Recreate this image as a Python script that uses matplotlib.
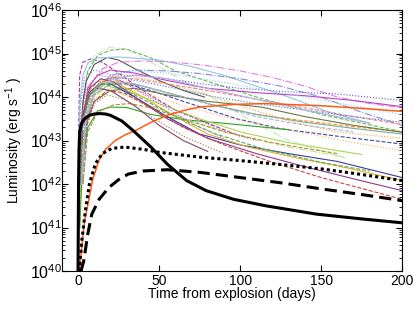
import numpy as np
import matplotlib
matplotlib.use('Agg')
import matplotlib.pyplot as plt

plt.rcParams['font.family'] = ['Liberation Sans', 'DejaVu Sans']
plt.rcParams['mathtext.fontset'] = 'custom'
plt.rcParams['mathtext.rm'] = 'Liberation Sans'
plt.rcParams['mathtext.it'] = 'Liberation Sans:italic'

# model curves (days, log10 L)
solid_days = [0, 0.3, 0.6, 1, 2, 3, 5, 7, 10, 13, 17, 20, 27, 34, 45, 55, 67, 79, 96, 116, 147, 175, 200]
solid_logl = [40, 42.0, 42.8, 43.2, 43.38, 43.45, 43.53, 43.58, 43.61, 43.62, 43.61, 43.58, 43.45, 43.23, 42.85, 42.46, 42.08, 41.85, 41.65, 41.5, 41.31, 41.2, 41.11]

dotted_days = [0.8, 2.3, 4.5, 7, 10.7, 15, 20.8, 28.8, 40, 50, 75, 100, 125, 150, 175, 200]
dotted_logl = [40, 40.7, 41.38, 42.0, 42.47, 42.7, 42.82, 42.85, 42.8, 42.73, 42.62, 42.54, 42.45, 42.35, 42.22, 42.08]

dashed_days = [1.8, 3.5, 6, 8.5, 13, 19, 25, 31, 40, 55, 75, 100, 125, 150, 175, 200]
dashed_logl = [40, 40.23, 40.85, 41.31, 41.65, 41.92, 42.1, 42.23, 42.3, 42.33, 42.27, 42.15, 42.03, 41.89, 41.76, 41.62]

orange_days = [0.8, 2.3, 4, 6.6, 9, 12.8, 17, 23, 29, 35.5, 45, 55, 65, 75, 96, 115, 150, 175, 200]
orange_logl = [40, 40.54, 41.15, 41.62, 42.1, 42.54, 42.8, 43.0, 43.13, 43.23, 43.42, 43.58, 43.69, 43.77, 43.83, 43.85, 43.8, 43.74, 43.67]

# observed sample light curves (days, log10 L)
sn_days = [
    [0.5, 2, 5, 10, 20, 30, 50, 75, 100, 130, 165],
    [1, 3, 6, 12, 20, 30, 45, 60, 85, 110, 150, 200],
    [0, 0.5, 1, 3, 8, 15, 25, 40, 60, 80, 100],
    [0.5, 2, 3, 5, 10, 18, 25, 35, 50, 65, 78],
    [0.3, 1, 3, 6, 12, 25, 50, 70, 90, 110, 130, 155, 180],
    [2, 4, 8, 15, 25, 40, 60, 80, 100, 120, 140, 160, 180, 200],
    [3, 6, 10, 20, 35, 55, 75, 100, 125, 150, 175, 200],
    [2, 4, 8, 15, 25, 40, 55, 75, 100, 130, 160, 200],
    [1, 3, 6, 12, 20, 35, 55, 80, 110, 140, 170, 200],
    [2, 5, 10, 20, 35, 55, 80, 110, 140, 170, 200],
    [2, 4, 8, 15, 25, 40, 60, 85, 110, 140, 170, 200],
    [1, 3, 6, 12, 22, 35, 55, 80, 110, 140, 170, 200],
    [1, 3, 8, 15, 25, 40, 60, 85, 110, 140, 170, 200],
    [2, 5, 10, 20, 30, 45, 65, 98, 125, 160, 200],
    [2, 5, 10, 20, 30, 45, 65, 90, 120, 150, 175, 200],
    [2, 5, 10, 20, 35, 55, 80, 113, 140, 170, 200],
    [1, 3, 6, 12, 20, 30, 45, 65, 95, 130],
    [2, 5, 10, 18, 30, 50, 75, 100, 130, 155, 175],
    [1, 3, 8, 15, 25, 45, 70, 100, 130, 165],
    [3, 6, 12, 22, 32, 45, 65, 90, 120, 160],
    [1, 3, 7, 13, 20, 35, 55, 75, 100, 130, 160, 200],
    [1, 3, 8, 15, 25, 40, 60, 80, 105, 135, 165, 200],
    [1, 3, 7, 14, 22, 35, 55, 80, 110, 140, 170, 200],
    [2, 5, 10, 18, 28, 45, 65, 90, 120, 150, 175, 200],
    [1, 3, 7, 12, 20, 35, 50, 65, 80],
    [2, 5, 10, 18, 28, 45, 65, 90],
    [0.5, 1.5, 4, 10, 18, 30, 50, 70, 90],
    [1, 2, 5, 12, 22, 40, 60, 85, 110],
    [2, 5, 10, 20, 35, 55, 80, 110, 140, 170],
    [0.5, 2, 5, 10, 20, 30, 50, 75, 100, 130, 160, 200],
    [2, 5, 10, 20, 35, 55, 80, 110, 140, 160, 180],
    [2, 5, 10, 20, 35, 55, 80, 110, 140, 170, 200],
    [1, 3, 7, 14, 24, 40, 60, 85, 115, 150, 180],
]
sn_logl = [
    [41, 43.5, 44.5, 44.95, 45.15, 45.1, 44.7, 44.15, 43.6, 43.0, 42.6],
    [41, 43.8, 44.6, 44.95, 45.08, 45.1, 44.9, 44.6, 44.3, 44.0, 43.6, 43.2],
    [41, 43.5, 44.5, 44.8, 44.88, 44.8, 44.55, 44.15, 43.7, 43.4, 43.1],
    [42, 43.3, 43.9, 44.35, 44.75, 44.91, 44.85, 44.65, 44.38, 44.15, 44.0],
    [42, 43.8, 44.5, 44.78, 44.9, 44.92, 44.85, 44.7, 44.5, 44.25, 44.0, 43.65, 43.4],
    [42, 43.5, 44.3, 44.65, 44.8, 44.83, 44.8, 44.72, 44.6, 44.45, 44.25, 44.0, 43.85, 43.75],
    [42, 43.5, 44.1, 44.5, 44.62, 44.6, 44.54, 44.42, 44.25, 44.0, 43.65, 43.35],
    [42, 43.4, 44.0, 44.35, 44.5, 44.5, 44.42, 44.31, 44.2, 44.12, 44.07, 43.92],
    [42, 43.5, 44.2, 44.5, 44.62, 44.55, 44.38, 44.2, 44.1, 44.03, 43.92, 43.78],
    [42, 43.6, 44.2, 44.45, 44.42, 44.3, 44.15, 43.95, 43.75, 43.55, 43.37],
    [42, 43.5, 44.1, 44.4, 44.45, 44.35, 44.2, 44.0, 43.85, 43.7, 43.55, 43.42],
    [42, 43.6, 44.1, 44.35, 44.4, 44.3, 44.1, 43.85, 43.6, 43.45, 43.32, 43.2],
    [42, 43.5, 44.1, 44.3, 44.35, 44.25, 44.05, 43.8, 43.6, 43.42, 43.28, 43.15],
    [42, 43.5, 44.05, 44.3, 44.3, 44.15, 43.9, 43.5, 43.27, 43.1, 42.92],
    [42, 43.4, 43.95, 44.2, 44.2, 44.05, 43.8, 43.55, 43.3, 43.1, 42.92, 42.77],
    [42, 43.4, 43.9, 44.15, 44.2, 44.05, 43.9, 43.77, 43.55, 43.35, 43.19],
    [41, 42.6, 43.3, 43.68, 43.77, 43.76, 43.6, 43.48, 43.38, 43.25],
    [42, 43.5, 44.05, 44.25, 44.15, 43.85, 43.5, 43.2, 42.95, 42.8, 42.68],
    [42, 43.4, 43.95, 44.15, 44.1, 43.8, 43.45, 43.1, 42.85, 42.62],
    [42, 43.2, 43.65, 43.82, 43.85, 43.75, 43.5, 43.2, 42.95, 42.7],
    [42, 43.5, 44.1, 44.3, 44.3, 44.0, 43.55, 43.15, 42.9, 42.7, 42.52, 42.15],
    [42, 43.5, 44.1, 44.35, 44.3, 44.0, 43.55, 43.15, 42.85, 42.6, 42.38, 42.08],
    [42, 43.6, 44.2, 44.42, 44.35, 44.0, 43.5, 43.05, 42.7, 42.4, 42.12, 41.85],
    [42, 43.3, 43.9, 44.15, 44.1, 43.75, 43.3, 42.9, 42.5, 42.15, 41.9, 41.65],
    [42, 43.5, 44.05, 44.2, 44.15, 43.8, 43.35, 43.0, 42.75],
    [42, 43.3, 43.85, 44.05, 43.95, 43.55, 43.1, 42.7],
    [42, 43.8, 44.45, 44.62, 44.55, 44.3, 43.85, 43.4, 43.05],
    [42, 43.5, 44.2, 44.5, 44.45, 44.1, 43.7, 43.3, 43.0],
    [42, 43.6, 44.15, 44.35, 44.3, 44.1, 43.85, 43.55, 43.35, 43.2],
    [40.5, 42.5, 43.5, 44.1, 44.45, 44.5, 44.35, 44.1, 43.8, 43.45, 43.2, 43.05],
    [42, 43.5, 44.1, 44.4, 44.5, 44.42, 44.2, 43.95, 43.7, 43.55, 43.4],
    [42, 43.6, 44.2, 44.5, 44.6, 44.55, 44.4, 44.2, 44.0, 43.8, 43.6],
    [42, 43.5, 44.05, 44.3, 44.25, 43.95, 43.55, 43.15, 42.8, 42.5, 42.3],
]
sn_colors = ['#c8e8b8', '#66bb55', '#a03ca0', '#555555', '#8ec6e6', '#e080e0',
             '#8888dd', '#5555cc', '#c040c0', '#f08080', '#3377cc', '#ff8c1a',
             '#77aa99', '#4444aa', '#fdb060', '#667744', '#2ca02c', '#a6d854',
             '#c5e08a', '#b08f2a', '#3b3b99', '#e6b030', '#8b3a8b', '#d04040',
             '#884466', '#a07040', '#9966cc', '#cc55aa', '#99bbee', '#ff9933',
             '#b0b0e0', '#88ccee', '#55aa55']
sn_styles = ['-.', '--', '--', '-', '-', '-.', '-.', ':', '-', '--', ':', '--',
             '-', '--', ':', '-', '-', '-', '-.', '--', '-', '-', '-', '--',
             '-', ':', ':', ':', '--', ':', '-', ':', '--']

fig = plt.figure(figsize=(4.15, 3.12), dpi=100)
ax = fig.add_axes([0.149, 0.131, 0.820, 0.837])

for d, l, c, s in zip(sn_days, sn_logl, sn_colors, sn_styles):
    ax.plot(d, 10**np.array(l), color=c, ls=s, lw=0.8)

ax.plot(orange_days, 10**np.array(orange_logl), color='#ff5a14', lw=1.1)
ax.plot(solid_days, 10**np.array(solid_logl), color='black', lw=2.2)
ax.plot(dotted_days, 10**np.array(dotted_logl), color='black', ls=(0, (1, 1)), lw=2.2)
ax.plot(dashed_days, 10**np.array(dashed_logl), color='black', ls=(0, (4, 2)), lw=2.2)

ax.set_yscale('log')
ax.set_xlim(-10, 200)
ax.set_ylim(1e40, 1e46)
ax.set_xticks([0, 50, 100, 150, 200])
ax.tick_params(which='both', direction='in', top=True, right=True)
ax.tick_params(which='major', length=4)
ax.tick_params(which='minor', length=2)
ax.tick_params(axis='x', labelsize=10, pad=2)
ax.tick_params(axis='y', labelsize=11.5, pad=0)
ax.set_xlabel('Time from explosion (days)', fontsize=10, labelpad=-1)
ax.set_ylabel('Luminosity (erg s$^{-1}$ )', fontsize=10)
ax.yaxis.set_label_coords(-0.108, 0.5)

fig.savefig('out.png', dpi=100)
